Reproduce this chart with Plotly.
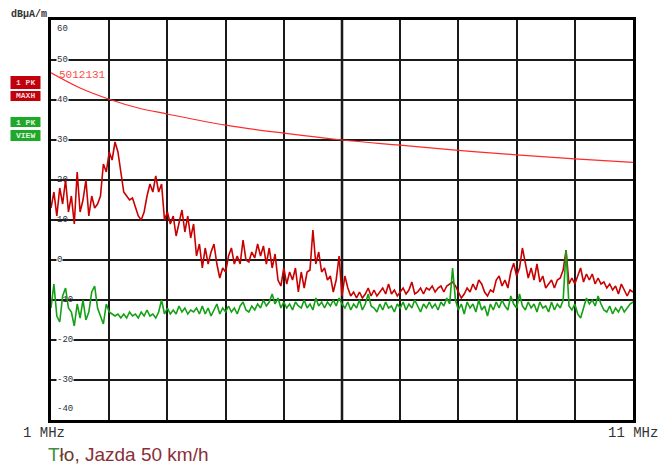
import numpy as np
import plotly.graph_objects as go

# Sweep: 1 MHz .. 11 MHz, linear span, 201 trace points
f_start, f_stop = 1.0, 11.0
n_points = 201
freq_mhz = np.linspace(f_start, f_stop, n_points)

# Trace 1, PK / MAX HOLD (dBuA/m)
maxh_dbua = [
    13, 17, 11, 18, 14, 20, 12, 16, 9, 22,
    12, 15, 20, 11, 16, 13, 14, 16, 24, 22,
    27, 25, 29.5, 27, 22, 17, 16, 15, 15.5, 13,
    11, 10, 12, 16, 19, 17, 21, 17, 19, 10,
    12, 9, 11, 6, 9, 12.5, 7, 11, 5.5, 9,
    1, 4, -2, 3, -1, 2, 4, -1, -4.5, -2,
    -3, 1, 3, -1, 1, -1, 5, 0, -0.5, 2,
    0.5, 4, 1, 3.5, -1, 3, -2, 1.5, -5, -6.5,
    -2, -6, -3, -5, -2, -8, -3, -7, -3, -2.5,
    7.5, -1, 2, -3, -2, -5, -4, -8, -5, 1,
    -9, -4, -7, -9, -8, -9.5, -8, -9.5, -8.5, -7,
    -9, -7.5, -9, -8, -7, -8.5, -6, -8.5, -7.5, -9,
    -8, -7, -8.5, -7.5, -5.5, -8.5, -8, -7, -8.5, -7,
    -7.5, -6.5, -8, -7, -6.5, -8, -6.5, -6, -5.5, -6.5,
    -8, -9.5, -8.5, -7, -8, -6, -7.5, -5, -6, -8,
    -9, -7.5, -8, -5, -4, -6.5, -5, -7, -3, -0.8,
    -4, -2, 3, -1, -4.5, -2, -5, -1, -5.5, -4,
    -7, -6, -5, -7, -5, -4.5, -2.5, 2.5, -6, -4.5,
    -6, -4, -2, -5.5, -3.5, -5, -3.5, -6, -4.5, -6,
    -5.5, -7, -6, -7.5, -6.5, -8.5, -6, -7.5, -9, -7.5,
    -8,
]

# Trace 2, PK / CLEAR WRITE view (dBuA/m)
view_dbua = [
    -12, -6, -14, -15.5, -9, -7, -12, -13, -16.5, -11,
    -14.5, -10, -15, -13, -8, -6.5, -12, -14, -16, -11,
    -13, -13.5, -14, -13.5, -14.5, -13.5, -14.5, -13, -14, -13.5,
    -14.5, -13, -14, -12.5, -14, -13.5, -14.5, -13, -10, -13.5,
    -12, -13.5, -12.5, -13.5, -11.5, -13, -12, -13.5, -12.5, -13,
    -12, -13.5, -11.5, -13.5, -12, -14, -12.5, -11, -13.5, -12,
    -13, -11.5, -13, -12, -13.5, -11.5, -10.5, -12.5, -13, -11.5,
    -12.5, -11, -12, -10, -11.5, -10.5, -8.5, -11, -9.5, -12,
    -10.5, -12, -11, -12.5, -10.5, -11.5, -12, -10, -12, -11,
    -12.5, -9.5, -11.5, -10.5, -12, -10.5, -11.5, -10, -11.5, -9.5,
    -11, -12, -10.5, -12.5, -11, -12, -10, -12.5, -11, -8.5,
    -11.5, -12, -13, -11, -12.5, -10.5, -12, -11.5, -13, -11,
    -12, -10.5, -12.5, -11, -12, -10, -11.5, -13, -11, -12,
    -10.5, -12, -11, -12.5, -10.5, -11.5, -9.5, -11, -2, -10,
    -12.5, -11, -13.5, -10.5, -12, -11, -13, -10, -12.5, -11.5,
    -14, -11, -12.5, -10.5, -12, -10, -11.5, -12.5, -9, -11,
    -12, -8.5, -11.5, -12.5, -10.5, -12, -11, -13, -10.5, -12,
    -11.5, -13, -10.5, -12.5, -11, -12, -10, 2.5, -11.5, -12.5,
    -11, -13.5, -14.5, -12, -9.5, -11, -10, -11.5, -9, -11,
    -12.5, -13, -11.5, -13.5, -12, -13, -11.5, -13, -12, -11,
    -10.5,
]

# Limit line 5012131 (dBuA/m)
limit_freq_mhz = [1.0, 1.5, 2.0, 2.5, 3.0, 4.0, 5.0, 6.0, 7.0, 8.0, 9.0, 10.0, 11.0]
limit_dbua = [46.8, 43.0, 40.2, 38.0, 36.5, 33.7, 31.7, 30.0, 28.7, 27.4, 26.3, 25.3, 24.4]
limit_name = "5012131"

# Reference scale
y_min, y_max = -40, 60
y_ticks = [60, 50, 40, 30, 20, 10, 0, -10, -20, -30, -40]
unit_label = "dBµA/m"
start_label, stop_label = "1 MHz", "11 MHz"
caption = "Tło, Jazda 50 km/h"

W, H = 660, 468
L, R, T, B = 51, 27, 20, 48
plot_w, plot_h = W - L - R, H - T - B


def px(xp):
    return (xp - L) / plot_w


def py(yp):
    return (H - B - yp) / plot_h


MONO = "Liberation Mono, DejaVu Sans Mono, monospace"
RED_TRACE = "#c80000"
GREEN_TRACE = "#14a014"
LIMIT_RED = "#ff2a2a"

fig = go.Figure()
fig.add_trace(go.Scatter(x=limit_freq_mhz, y=limit_dbua, mode="lines",
                         line=dict(color=LIMIT_RED, width=1.2, shape="spline"),
                         hoverinfo="skip", showlegend=False))
fig.add_trace(go.Scatter(x=freq_mhz, y=maxh_dbua, mode="lines",
                         line=dict(color=RED_TRACE, width=1.6),
                         showlegend=False))
fig.add_trace(go.Scatter(x=freq_mhz, y=view_dbua, mode="lines",
                         line=dict(color=GREEN_TRACE, width=1.6),
                         showlegend=False))

shapes = [
    # heavier centre graticule line
    dict(type="line", xref="x", yref="paper", x0=6, x1=6, y0=0, y1=1,
         line=dict(color="black", width=2.5), layer="below"),
    # trace indicator boxes
    dict(type="rect", xref="paper", yref="paper", x0=px(10.5), x1=px(40.5),
         y0=py(89), y1=py(76), fillcolor="#c0000c", line=dict(width=0)),
    dict(type="rect", xref="paper", yref="paper", x0=px(10.5), x1=px(40.5),
         y0=py(101), y1=py(91), fillcolor="#c0000c", line=dict(width=0)),
    dict(type="rect", xref="paper", yref="paper", x0=px(10.5), x1=px(40.5),
         y0=py(127), y1=py(117), fillcolor="#1fa82a", line=dict(width=0)),
    dict(type="rect", xref="paper", yref="paper", x0=px(10.5), x1=px(40.5),
         y0=py(141), y1=py(130), fillcolor="#1fa82a", line=dict(width=0)),
]

annotations = []
# level labels drawn inside the graticule; traces stay visible over the busy ones
busy_levels = {20, 10, -10}
for v in y_ticks:
    if v == y_max:
        yy = py(29)
    elif v == y_min:
        yy = py(409)
    else:
        yy = py(H - B - (v - y_min) / (y_max - y_min) * plot_h)
    annotations.append(dict(xref="paper", yref="paper", x=px(56), y=yy,
                            text=str(v), showarrow=False, xanchor="left",
                            yanchor="middle",
                            bgcolor="rgba(0,0,0,0)" if v in busy_levels else "white",
                            borderpad=0,
                            font=dict(family=MONO, size=9, color="#303040")))

annotations += [
    dict(xref="paper", yref="paper", x=px(9), y=py(14), text="<b>" + unit_label + "</b>",
         showarrow=False, xanchor="left", yanchor="middle",
         font=dict(family=MONO, size=10, color="#333333")),
    dict(xref="paper", yref="paper", x=px(57), y=py(74.5), text=limit_name,
         showarrow=False, xanchor="left", yanchor="middle",
         font=dict(family=MONO, size=11, color="#ff4a4a")),
    dict(xref="paper", yref="paper", x=px(25.5), y=py(82.5), text="<b>1 PK</b>",
         showarrow=False, xanchor="center", yanchor="middle",
         font=dict(family=MONO, size=8, color="#f6d6d6")),
    dict(xref="paper", yref="paper", x=px(25.5), y=py(96), text="<b>MAXH</b>",
         showarrow=False, xanchor="center", yanchor="middle",
         font=dict(family=MONO, size=8, color="#f6d6d6")),
    dict(xref="paper", yref="paper", x=px(25.5), y=py(122), text="<b>1 PK</b>",
         showarrow=False, xanchor="center", yanchor="middle",
         font=dict(family=MONO, size=8, color="#e0f6e0")),
    dict(xref="paper", yref="paper", x=px(25.5), y=py(135.5), text="<b>VIEW</b>",
         showarrow=False, xanchor="center", yanchor="middle",
         font=dict(family=MONO, size=8, color="#e0f6e0")),
    dict(xref="paper", yref="paper", x=px(21), y=py(433), text=start_label,
         showarrow=False, xanchor="left", yanchor="middle",
         font=dict(family=MONO, size=14, color="#333333")),
    dict(xref="paper", yref="paper", x=px(660), y=py(433), text=stop_label,
         showarrow=False, xanchor="right", yanchor="middle",
         font=dict(family=MONO, size=14, color="#333333")),
    dict(xref="paper", yref="paper", x=px(46), y=py(455),
         text=("<span style='color:#3f8f3f'>T</span>"
               "<span style='color:#6a3a2c'>ło,</span>"
               "<span style='color:#8a2e38'>" + caption[4:] + "</span>"),
         showarrow=False, xanchor="left", yanchor="middle",
         font=dict(family="Liberation Sans, Arial", size=19, color="#8a2e38")),
]

fig.update_layout(
    width=W, height=H,
    margin=dict(l=L, r=R, t=T, b=B),
    paper_bgcolor="white", plot_bgcolor="white",
    showlegend=False,
    shapes=shapes,
    annotations=annotations,
    xaxis=dict(range=[f_start, f_stop], dtick=1, tick0=1, showgrid=True,
               gridcolor="#1a1a1a", gridwidth=1.5, zeroline=False,
               showticklabels=False, ticks="", showline=True, mirror=True,
               linecolor="black", linewidth=2.5, fixedrange=True),
    yaxis=dict(range=[y_min, y_max], dtick=10, tick0=0, showgrid=True,
               gridcolor="#1a1a1a", gridwidth=1.5, zeroline=False,
               showticklabels=False, ticks="", showline=True, mirror=True,
               linecolor="black", linewidth=2.5, fixedrange=True),
)

fig.write_html("out.html")
